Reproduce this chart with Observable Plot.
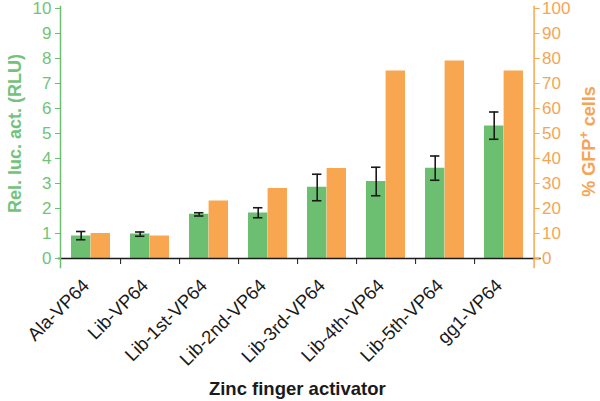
<!DOCTYPE html>
<html>
<head>
<meta charset="utf-8">
<script src="https://cdn.jsdelivr.net/npm/d3@7"></script>
<script src="https://cdn.jsdelivr.net/npm/@observablehq/plot@0.6"></script>
<style>
  html, body { margin: 0; padding: 0; background: #fff; }
  svg { font-family: "Liberation Sans", Arial, sans-serif; overflow: visible; }
</style>
</head>
<body>
<div id="chart"></div>
<script>
const categories = ["Ala-VP64","Lib-VP64","Lib-1st-VP64","Lib-2nd-VP64","Lib-3rd-VP64","Lib-4th-VP64","Lib-5th-VP64","gg1-VP64"];
const rlu     = [0.90, 0.98, 1.77, 1.82, 2.85, 3.08, 3.61, 5.30];
const rluLow  = [0.75, 0.89, 1.70, 1.63, 2.31, 2.51, 3.13, 4.77];
const rluHigh = [1.08, 1.06, 1.83, 2.03, 3.37, 3.65, 4.10, 5.86];
const gfpPct  = [10, 9, 23, 28, 36, 75, 79, 75];
const leftTicks  = [0,1,2,3,4,5,6,7,8,9,10];
const rightTicks = [0,10,20,30,40,50,60,70,80,90,100];

const green = "#6cbf70";
const greenText = "#72c379";
const orange = "#f8a750";
const orangeText = "#f5a554";

const W = 600, H = 401, mL = 60, mR = 66.4, mT = 8, mB = 143;
const step = (W - mL - mR) / categories.length;
const idx = categories.map((_, i) => i);
const capInsetL = 10 + (step / 2 - 10) / 2 - 4.8;
const capInsetR = step / 2 + (step / 2 - 10) / 2 - 4.8;

const chart = Plot.plot({
  width: W, height: H,
  marginLeft: mL, marginRight: mR, marginTop: mT, marginBottom: mB,
  style: {fontFamily: "Liberation Sans, Arial, sans-serif", background: "white", overflow: "visible"},
  x: {domain: categories, padding: 0, axis: null},
  y: {domain: [0, 10], axis: null},
  marks: [
    Plot.barY(idx, {x: i => categories[i], y: i => rlu[i], fill: green, insetLeft: 10, insetRight: step / 2}),
    Plot.barY(idx, {x: i => categories[i], y: i => gfpPct[i] / 10, fill: orange, insetLeft: step / 2, insetRight: 10}),
    Plot.ruleX(idx, {x: i => categories[i], y1: i => rluLow[i], y2: i => rluHigh[i], dx: -(step / 4 - 5), stroke: "#1a1a1a", strokeWidth: 1.6}),
    Plot.tickY(idx, {x: i => categories[i], y: i => rluLow[i], stroke: "#1a1a1a", strokeWidth: 1.6, insetLeft: capInsetL, insetRight: capInsetR}),
    Plot.tickY(idx, {x: i => categories[i], y: i => rluHigh[i], stroke: "#1a1a1a", strokeWidth: 1.6, insetLeft: capInsetL, insetRight: capInsetR}),
    // baseline
    Plot.ruleY([0], {stroke: "#1a1a1a", strokeWidth: 1.3, insetLeft: -2, insetRight: -7}),
    // left axis
    Plot.frame({anchor: "left", stroke: green, strokeWidth: 1.5, insetTop: -2, insetBottom: -9}),
    Plot.axisY({anchor: "left", ticks: leftTicks, tickSize: 5, tickPadding: 4, fontSize: 17, color: greenText, stroke: green, label: null}),
    // right axis
    Plot.frame({anchor: "right", stroke: orange, strokeWidth: 1.5, insetTop: -2, insetBottom: -9}),
    Plot.axisY({anchor: "right", ticks: leftTicks, tickFormat: d => String(rightTicks[leftTicks.indexOf(d)]), tickSize: 5, tickPadding: 3, fontSize: 17, color: orangeText, stroke: orange, label: null}),
    // bottom boundary ticks
    Plot.axisX({ticks: categories.slice(0, categories.length - 1), tickSize: 6, tickFormat: () => "", dx: step / 2, stroke: "#1a1a1a", label: null}),
    // rotated category labels
    Plot.axisX({ticks: categories, tickSize: 0, tickRotate: -45, tickPadding: 10, fontSize: 18.5, fill: "#1a1a1a", label: null, dx: -5, dy: 14}),
    // titles
    Plot.text(["Rel. luc. act. (RLU)"], {frameAnchor: "left", textAnchor: "middle", dx: -45, rotate: -90, fontSize: 18, fontWeight: "bold", fill: greenText}),
    Plot.text(["% GFP+ cells"], {frameAnchor: "right", textAnchor: "middle", dx: 55, dy: 8, rotate: -90, fontSize: 18, fontWeight: "bold", fill: orangeText}),
    Plot.text(["Zinc finger activator"], {frameAnchor: "bottom", textAnchor: "middle", dy: 136, fontSize: 18.5, fontWeight: "bold", fill: "#1a1a1a"})
  ]
});

// superscript "+" in the GFP title
d3.select(chart).selectAll("text").each(function() {
  const t = d3.select(this);
  if (t.text() === "% GFP+ cells") {
    t.text(null);
    t.append("tspan").text("% GFP");
    t.append("tspan").attr("baseline-shift", "super").attr("font-size", "13px").text("+");
    t.append("tspan").text(" cells");
  }
});

document.getElementById("chart").appendChild(chart);
</script>
</body>
</html>
